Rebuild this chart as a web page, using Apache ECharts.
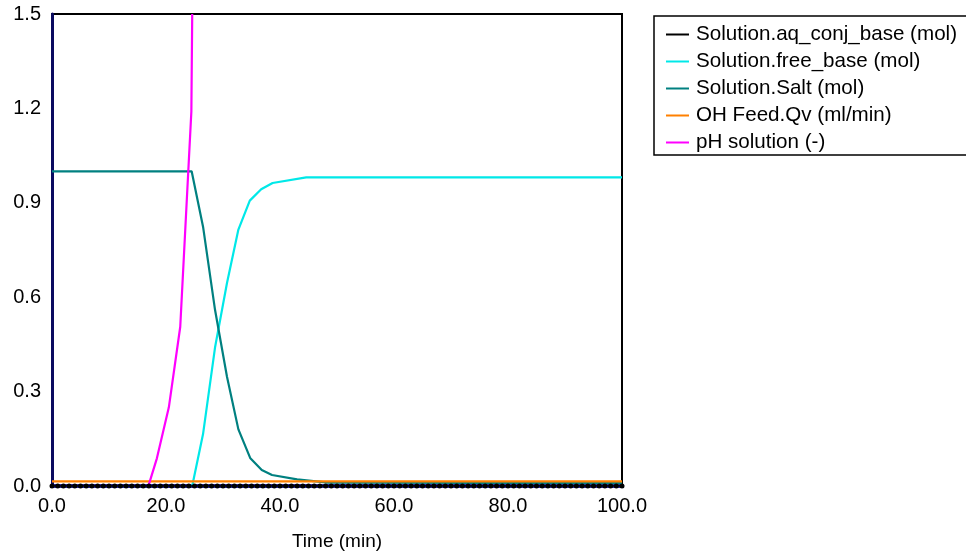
<!DOCTYPE html>
<html>
<head>
<meta charset="utf-8">
<title>Solution profile</title>
<script src="https://cdn.jsdelivr.net/npm/echarts@6/dist/echarts.min.js"></script>
<style>
  html, body { margin: 0; padding: 0; background: #ffffff; }
  #chart { width: 966px; height: 559px; }
</style>
</head>
<body>
<div id="chart"></div>
<script>
// Series names as shown in the legend
const seriesNames = [
  'Solution.aq_conj_base (mol)',
  'Solution.free_base (mol)',
  'Solution.Salt (mol)',
  'OH Feed.Qv (ml/min)',
  'pH solution (-)'
];

// Solution.aq_conj_base (mol): sampled every minute, stays at zero
const conjBaseTime = [
  0,1,2,3,4,5,6,7,8,9,10,11,12,13,14,15,16,17,18,19,20,21,22,23,24,25,26,27,28,29,30,
  31,32,33,34,35,36,37,38,39,40,41,42,43,44,45,46,47,48,49,50,51,52,53,54,55,56,57,58,59,60,
  61,62,63,64,65,66,67,68,69,70,71,72,73,74,75,76,77,78,79,80,81,82,83,84,85,86,87,88,89,90,
  91,92,93,94,95,96,97,98,99,100
];
const conjBaseValues = [
  0,0,0,0,0,0,0,0,0,0,0,0,0,0,0,0,0,0,0,0,0,0,0,0,0,0,0,0,0,0,0,
  0,0,0,0,0,0,0,0,0,0,0,0,0,0,0,0,0,0,0,0,0,0,0,0,0,0,0,0,0,0,
  0,0,0,0,0,0,0,0,0,0,0,0,0,0,0,0,0,0,0,0,0,0,0,0,0,0,0,0,0,0,
  0,0,0,0,0,0,0,0,0,0
];

// Solution.free_base (mol)
const freeBaseTime   = [24.6, 26.5, 28.6, 30.7, 32.7, 34.7, 36.7, 38.7, 44.6, 100];
const freeBaseValues = [0.0, 0.165, 0.44, 0.645, 0.815, 0.907, 0.943, 0.963, 0.981, 0.981];

// Solution.Salt (mol)
const saltTime   = [0, 24.5, 26.5, 28.6, 30.7, 32.7, 34.8, 36.8, 38.6, 43.0, 48.4, 100];
const saltValues = [1.0, 1.0, 0.824, 0.56, 0.347, 0.18, 0.088, 0.051, 0.035, 0.021, 0.011, 0.009];

// OH Feed.Qv (ml/min)
const feedTime   = [0, 100];
const feedValues = [0.015, 0.015];

// pH solution (-)
const phTime   = [17.0, 18.4, 20.5, 22.5, 24.45, 24.6];
const phValues = [0.005, 0.088, 0.25, 0.506, 1.19, 1.5];

// Axis ticks
const xTicks = [0, 20, 40, 60, 80, 100];
const yTicks = [0, 0.3, 0.6, 0.9, 1.2, 1.5];

const colors = ['#000000', '#00e8e8', '#008080', '#ff8000', '#ff00ff'];

function pairs(xs, ys) {
  return xs.map((x, i) => [x, ys[i]]);
}

const FONT = '"Liberation Sans", Arial, sans-serif';

const chart = echarts.init(document.getElementById('chart'), null, { renderer: 'canvas' });

const lineSeries = (name, data, color, extra) => Object.assign({
  name: name,
  type: 'line',
  data: data,
  showSymbol: false,
  symbol: 'none',
  animation: false,
  clip: true,
  lineStyle: { color: color, width: 2.2 },
  itemStyle: { color: color }
}, extra || {});

chart.setOption({
  backgroundColor: '#ffffff',
  animation: false,
  grid: {
    left: 52,
    top: 14,
    right: 344,
    bottom: 73,
    show: true,
    borderColor: '#000000',
    borderWidth: 2,
    backgroundColor: 'transparent'
  },
  legend: {
    orient: 'vertical',
    left: 654,
    top: 16,
    padding: [8, 30, 2, 12],
    itemGap: 6,
    itemWidth: 23,
    itemHeight: 2,
    icon: 'rect',
    borderColor: '#000000',
    borderWidth: 1.5,
    backgroundColor: '#ffffff',
    textStyle: { color: '#000000', fontSize: 20.6, fontFamily: FONT, lineHeight: 20, padding: [0, 0, 0, 2] },
    data: seriesNames
  },
  xAxis: {
    type: 'value',
    min: xTicks[0],
    max: xTicks[xTicks.length - 1],
    interval: xTicks[1] - xTicks[0],
    name: 'Time (min)',
    nameLocation: 'middle',
    nameGap: 46,
    nameTextStyle: { color: '#000000', fontSize: 19, fontFamily: FONT },
    axisLine: { show: true, onZero: false, lineStyle: { color: '#2a2aa8', width: 4 } },
    axisTick: { show: false },
    splitLine: { show: false },
    axisLabel: {
      color: '#000000', fontSize: 20, fontFamily: FONT, margin: 10,
      formatter: v => v.toFixed(1)
    }
  },
  yAxis: {
    type: 'value',
    min: yTicks[0],
    max: yTicks[yTicks.length - 1],
    interval: 0.3,
    axisLine: { show: true, onZero: false, lineStyle: { color: '#0a0a60', width: 3 } },
    axisTick: { show: false },
    splitLine: { show: false },
    axisLabel: {
      color: '#000000', fontSize: 20, fontFamily: FONT, margin: 11,
      formatter: v => v.toFixed(1)
    }
  },
  series: [
    lineSeries(seriesNames[1], pairs(freeBaseTime, freeBaseValues), colors[1]),
    lineSeries(seriesNames[2], pairs(saltTime, saltValues), colors[2]),
    lineSeries(seriesNames[3], pairs(feedTime, feedValues), colors[3]),
    lineSeries(seriesNames[4], pairs(phTime, phValues), colors[4]),
    lineSeries(seriesNames[0], pairs(conjBaseTime, conjBaseValues), colors[0], {
      showSymbol: true,
      symbol: 'circle',
      symbolSize: 5,
      z: 5,
      lineStyle: { color: colors[0], width: 1.5 }
    })
  ]
});
</script>
</body>
</html>
